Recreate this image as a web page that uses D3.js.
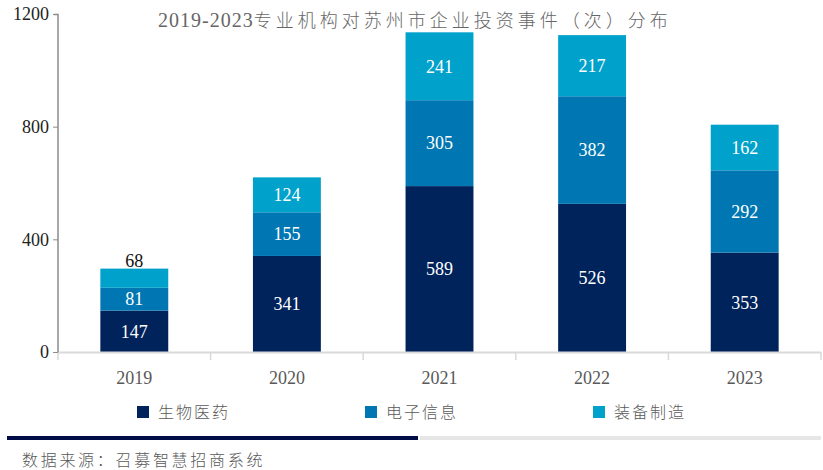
<!DOCTYPE html>
<html>
<head>
<meta charset="utf-8">
<script src="https://cdn.jsdelivr.net/npm/d3@7"></script>
<style>
  body { margin: 0; background: #fff; }
</style>
</head>
<body>
<script>
let years = ["2019", "2020", "2021", "2022", "2023"];
let seriesNames = ["生物医药", "电子信息", "装备制造"];
let bio = [147, 341, 589, 526, 353];
let elec = [81, 155, 305, 382, 292];
let equip = [68, 124, 241, 217, 162];
let yTicks = [0, 400, 800, 1200];
let colors = ["#00235b", "#0077b2", "#00a2cb"];

const SERIF = "'Liberation Serif', 'Noto Sans CJK SC', serif";
const CJK = "'Noto Sans CJK SC', 'Liberation Serif', sans-serif";

let W = 823, H = 470;
let svg = d3.select("body").append("svg").attr("width", W).attr("height", H);

let x = d3.scaleBand().domain(years).range([58, 821]).paddingInner(0.555).paddingOuter(0.2775);
let y = d3.scaleLinear().domain([0, 1200]).range([352, 14]);

let rows = years.map((yr, i) => ({ year: yr, 生物医药: bio[i], 电子信息: elec[i], 装备制造: equip[i] }));
let stacked = d3.stack().keys(seriesNames)(rows);

// title
let title = svg.append("text")
    .attr("x", 158).attr("y", 27)
    .attr("fill", "#666");
title.append("tspan")
    .attr("font-family", SERIF).attr("font-size", 20).attr("letter-spacing", 1)
    .text("2019-2023");
title.append("tspan")
    .attr("font-family", CJK).attr("font-size", 18).attr("font-weight", 300).attr("letter-spacing", 4)
    .text("专业机构对苏州市企业投资事件（次）分布");

// bars
stacked.forEach((s, k) => {
    svg.append("g").selectAll("rect").data(s).join("rect")
        .attr("x", d => x(d.data.year))
        .attr("y", d => y(d[1]))
        .attr("width", x.bandwidth())
        .attr("height", d => y(d[0]) - y(d[1]))
        .attr("fill", colors[k]);

    svg.append("g").selectAll("text").data(s).join("text")
        .attr("x", d => x(d.data.year) + x.bandwidth() / 2)
        .attr("y", d => {
            let h = y(d[0]) - y(d[1]);
            if (h < 22) return y(d[1]) - 8;
            return (y(d[0]) + y(d[1])) / 2;
        })
        .attr("dy", "0.35em")
        .attr("text-anchor", "middle")
        .attr("font-family", SERIF)
        .attr("font-size", 18)
        .attr("fill", d => (y(d[0]) - y(d[1]) < 22 ? "#111" : "#fff"))
        .text(d => d[1] - d[0]);
});

// x axis
let bw = x.step();
svg.append("line")
    .attr("x1", 58).attr("x2", 821).attr("y1", 352.5).attr("y2", 352.5)
    .attr("stroke", "#d9d9d9").attr("stroke-width", 2);
let edges = [58].concat(years.map(yr => x(yr) - x.paddingInner() * bw / 2 + bw));
edges.forEach(e => {
    svg.append("line")
        .attr("x1", e).attr("x2", e).attr("y1", 352).attr("y2", 360)
        .attr("stroke", "#d9d9d9").attr("stroke-width", 1.5);
});
svg.append("g").selectAll("text").data(years).join("text")
    .attr("x", d => x(d) + x.bandwidth() / 2)
    .attr("y", 384)
    .attr("text-anchor", "middle")
    .attr("font-family", SERIF)
    .attr("font-size", 18)
    .attr("fill", "#595959")
    .text(d => d);

// y axis
let yAxis = svg.append("g").attr("transform", "translate(58,0)")
    .call(d3.axisLeft(y).tickValues(yTicks).tickFormat(d3.format("d")).tickSize(5).tickPadding(4));
yAxis.select(".domain").attr("stroke", "#8c8c8c").attr("stroke-width", 1.5)
    .attr("d", "M-4,14.5H0V352");
yAxis.selectAll(".tick line").attr("stroke", "#8c8c8c");
yAxis.selectAll(".tick text").attr("font-size", 18).attr("fill", "#222")
    .attr("font-family", SERIF);

// legend
let legX = [137, 365, 593];
seriesNames.forEach((n, i) => {
    svg.append("rect")
        .attr("x", legX[i]).attr("y", 406)
        .attr("width", 12).attr("height", 12)
        .attr("fill", colors[i]);
    svg.append("text")
        .attr("x", legX[i] + 21).attr("y", 412)
        .attr("dy", "0.35em")
        .attr("font-family", CJK)
        .attr("font-weight", 300)
        .attr("font-size", 16)
        .attr("letter-spacing", 2)
        .attr("fill", "#595959")
        .text(n);
});

// footer rule + source
svg.append("rect").attr("x", 7).attr("y", 436).attr("width", 411).attr("height", 4).attr("fill", "#000c45");
svg.append("rect").attr("x", 420).attr("y", 436).attr("width", 401).attr("height", 4).attr("fill", "#e6e6e6");
svg.append("text")
    .attr("x", 22).attr("y", 466)
    .attr("font-family", CJK)
    .attr("font-weight", 300)
    .attr("font-size", 16)
    .attr("letter-spacing", 2.7)
    .attr("fill", "#595959")
    .text("数据来源：召募智慧招商系统");
</script>
</body>
</html>
